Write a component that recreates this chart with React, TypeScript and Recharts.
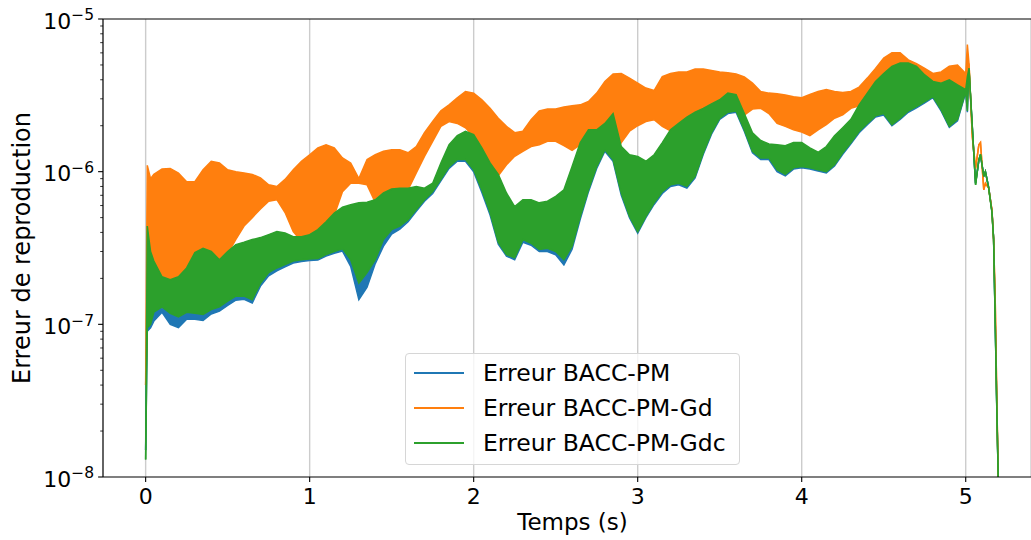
import React from "react";
import { ComposedChart, Area, XAxis, YAxis, CartesianGrid, ReferenceLine, Legend, Label } from "recharts";

// time (s)
const times = [
  0, 0.01, 0.03,
  0.05, 0.1, 0.15, 0.2, 0.25, 0.3, 0.35, 0.4, 0.45, 0.5,
  0.55, 0.6, 0.65, 0.7, 0.75, 0.8, 0.85, 0.9, 0.95, 1.0,
  1.05, 1.1, 1.15, 1.2, 1.25, 1.3, 1.35, 1.4, 1.45, 1.5,
  1.55, 1.6, 1.65, 1.7, 1.75, 1.8, 1.85, 1.9, 1.95, 2.0,
  2.05, 2.1, 2.15, 2.2, 2.25, 2.3, 2.35, 2.4, 2.45, 2.5,
  2.55, 2.6, 2.65, 2.7, 2.75, 2.8, 2.85, 2.9, 2.95, 3.0,
  3.05, 3.1, 3.15, 3.2, 3.25, 3.3, 3.35, 3.4, 3.45, 3.5,
  3.55, 3.6, 3.65, 3.7, 3.75, 3.8, 3.85, 3.9, 3.95, 4.0,
  4.05, 4.1, 4.15, 4.2, 4.25, 4.3, 4.35, 4.4, 4.45, 4.5,
  4.55, 4.6, 4.65, 4.7, 4.75, 4.8, 4.85, 4.9, 4.95, 5.0,
  5.01, 5.02, 5.04, 5.06, 5.08, 5.09, 5.11, 5.12, 5.14, 5.16, 5.17, 5.18, 5.19, 5.2,
];

// envelopes of the oscillating errors (low / high)
const blueLow = [
  1.5e-8, 9.0e-8, 9.5e-8,
  1.05e-7, 1.2e-7, 1.0e-7, 9.5e-8, 1.08e-7, 1.08e-7, 1.06e-7, 1.17e-7, 1.22e-7, 1.33e-7,
  1.44e-7, 1.46e-7, 1.38e-7, 1.78e-7, 2.08e-7, 2.24e-7, 2.38e-7, 2.52e-7, 2.58e-7, 2.62e-7,
  2.64e-7, 2.8e-7, 2.92e-7, 3.02e-7, 2.4e-7, 1.45e-7, 1.75e-7, 2.5e-7, 3.25e-7, 3.9e-7,
  4.2e-7, 4.7e-7, 5.5e-7, 6.4e-7, 7.2e-7, 8.7e-7, 1.05e-6, 1.17e-6, 1.17e-6, 1.0e-6,
  7.3e-7, 5.2e-7, 3.35e-7, 2.8e-7, 2.65e-7, 3.45e-7, 3.3e-7, 3.0e-7, 3.0e-7, 2.85e-7,
  2.45e-7, 3.1e-7, 4.9e-7, 7.4e-7, 1.05e-6, 1.36e-6, 1.17e-6, 7.0e-7, 5.0e-7, 3.95e-7,
  5.0e-7, 6.1e-7, 7.2e-7, 8.0e-7, 8.2e-7, 7.8e-7, 9.1e-7, 1.3e-6, 1.76e-6, 2.2e-6,
  2.4e-6, 2.45e-6, 1.84e-6, 1.33e-6, 1.2e-6, 1.2e-6, 1.0e-6, 9.4e-7, 1.04e-6, 1.06e-6,
  1.04e-6, 1.01e-6, 9.8e-7, 1.09e-6, 1.3e-6, 1.52e-6, 1.8e-6, 2.03e-6, 2.28e-6, 2.35e-6,
  2.0e-6, 2.2e-6, 2.45e-6, 2.62e-6, 2.82e-6, 3.05e-6, 2.5e-6, 1.95e-6, 2.15e-6, 3.3e-6,
  2.45e-6, 4.6e-6, 1.95e-6, 8.4e-7, 1.18e-6, 1.28e-6, 9.4e-7, 1.0e-6, 7.9e-7, 5.5e-7, 3.65e-7, 1.05e-7, 2.7e-8, 8e-9,
];
const blueHigh = [
  1.5e-8, 3.5e-7, 2.8e-7,
  2.4e-7, 1.95e-7, 1.9e-7, 2.0e-7, 2.25e-7, 2.8e-7, 3.0e-7, 2.85e-7, 2.55e-7, 2.85e-7,
  3.2e-7, 3.3e-7, 3.45e-7, 3.55e-7, 3.7e-7, 3.9e-7, 3.8e-7, 3.6e-7, 3.6e-7, 3.7e-7,
  4.0e-7, 4.5e-7, 5.1e-7, 5.6e-7, 5.8e-7, 6.0e-7, 6.0e-7, 6.3e-7, 7.0e-7, 7.4e-7,
  7.5e-7, 7.5e-7, 7.7e-7, 7.5e-7, 8.1e-7, 1.1e-6, 1.45e-6, 1.65e-6, 1.77e-6, 1.68e-6,
  1.38e-6, 1.1e-6, 9.2e-7, 7.0e-7, 5.7e-7, 6.3e-7, 6.3e-7, 6.0e-7, 6.2e-7, 6.6e-7,
  7.3e-7, 1.04e-6, 1.5e-6, 1.8e-6, 1.8e-6, 2.0e-6, 2.3e-6, 1.4e-6, 1.24e-6, 1.21e-6,
  1.12e-6, 1.24e-6, 1.5e-6, 1.8e-6, 2.0e-6, 2.2e-6, 2.36e-6, 2.5e-6, 2.68e-6, 2.85e-6,
  3.15e-6, 3.1e-6, 2.3e-6, 1.73e-6, 1.54e-6, 1.46e-6, 1.44e-6, 1.42e-6, 1.49e-6, 1.49e-6,
  1.38e-6, 1.29e-6, 1.4e-6, 1.65e-6, 1.87e-6, 2.12e-6, 2.64e-6, 3.15e-6, 3.75e-6, 4.25e-6,
  4.7e-6, 4.95e-6, 4.95e-6, 4.7e-6, 4.15e-6, 3.75e-6, 3.65e-6, 3.85e-6, 3.55e-6, 3.35e-6,
  4.0e-6, 4.6e-6, 1.95e-6, 8.4e-7, 1.18e-6, 1.28e-6, 9.4e-7, 1.0e-6, 7.9e-7, 5.5e-7, 3.65e-7, 1.05e-7, 2.7e-8, 8e-9,
];
const orangeLow = [
  4.0e-8, 1.0e-7, 1.5e-7,
  1.6e-7, 1.3e-7, 1.6e-7, 1.8e-7, 2.0e-7, 2.4e-7, 2.6e-7, 2.5e-7, 2.5e-7, 2.9e-7,
  3.6e-7, 4.4e-7, 5.0e-7, 5.7e-7, 6.4e-7, 6.55e-7, 5.4e-7, 4.05e-7, 3.5e-7, 3.6e-7,
  3.9e-7, 4.5e-7, 5.2e-7, 7.4e-7, 8.4e-7, 8.4e-7, 8.2e-7, 6.3e-7, 7.0e-7, 7.4e-7,
  7.6e-7, 7.6e-7, 9.8e-7, 1.26e-6, 1.58e-6, 1.98e-6, 2.13e-6, 2.07e-6, 1.94e-6, 1.7e-6,
  1.4e-6, 1.1e-6, 9.4e-7, 1.11e-6, 1.26e-6, 1.36e-6, 1.46e-6, 1.5e-6, 1.58e-6, 1.58e-6,
  1.48e-6, 1.38e-6, 1.5e-6, 1.8e-6, 1.85e-6, 2.0e-6, 2.3e-6, 1.55e-6, 1.84e-6, 2.0e-6,
  2.13e-6, 2.19e-6, 1.98e-6, 1.85e-6, 2.0e-6, 2.2e-6, 2.4e-6, 2.55e-6, 2.7e-6, 2.9e-6,
  3.1e-6, 3.1e-6, 2.35e-6, 2.57e-6, 2.6e-6, 2.4e-6, 2.07e-6, 1.98e-6, 1.88e-6, 1.82e-6,
  1.72e-6, 1.88e-6, 2.03e-6, 2.24e-6, 2.36e-6, 2.6e-6, 2.7e-6, 3.1e-6, 3.7e-6, 4.2e-6,
  4.7e-6, 4.9e-6, 4.9e-6, 4.7e-6, 4.1e-6, 3.7e-6, 3.6e-6, 3.8e-6, 3.5e-6, 3.3e-6,
  3.5e-6, 5.1e-6, 1.7e-6, 1.05e-6, 1.5e-6, 1.55e-6, 7.6e-7, 8.4e-7, 7.8e-7, 5.6e-7, 3.6e-7, 1.4e-7, 3.0e-8, 8e-9,
];
const orangeHigh = [
  4.0e-8, 1.1e-6, 9.0e-7,
  9.6e-7, 1.04e-6, 1.05e-6, 9.8e-7, 8.6e-7, 8.6e-7, 1.03e-6, 1.17e-6, 1.14e-6, 1.03e-6,
  1.0e-6, 9.8e-7, 9.6e-7, 9.1e-7, 8.2e-7, 8.0e-7, 8.9e-7, 1.03e-6, 1.17e-6, 1.29e-6,
  1.43e-6, 1.5e-6, 1.43e-6, 1.23e-6, 1.14e-6, 9.0e-7, 1.2e-6, 1.29e-6, 1.36e-6, 1.39e-6,
  1.39e-6, 1.33e-6, 1.46e-6, 1.8e-6, 2.13e-6, 2.5e-6, 2.74e-6, 3.05e-6, 3.35e-6, 3.27e-6,
  2.96e-6, 2.6e-6, 2.24e-6, 1.98e-6, 1.8e-6, 1.84e-6, 2.19e-6, 2.5e-6, 2.57e-6, 2.57e-6,
  2.65e-6, 2.7e-6, 2.74e-6, 2.88e-6, 3.27e-6, 3.9e-6, 4.37e-6, 4.4e-6, 4.1e-6, 3.8e-6,
  3.53e-6, 3.4e-6, 4.2e-6, 4.4e-6, 4.5e-6, 4.5e-6, 4.7e-6, 4.7e-6, 4.6e-6, 4.5e-6,
  4.45e-6, 4.37e-6, 4.17e-6, 3.8e-6, 3.35e-6, 3.27e-6, 3.24e-6, 3.18e-6, 3.1e-6, 3.05e-6,
  3.2e-6, 3.35e-6, 3.45e-6, 3.35e-6, 3.3e-6, 3.35e-6, 3.58e-6, 4.1e-6, 4.75e-6, 5.55e-6,
  6.0e-6, 6.0e-6, 5.4e-6, 5.1e-6, 4.75e-6, 4.4e-6, 4.5e-6, 4.9e-6, 5.0e-6, 4.4e-6,
  6.8e-6, 5.1e-6, 1.7e-6, 1.05e-6, 1.5e-6, 1.55e-6, 7.6e-7, 8.4e-7, 7.8e-7, 5.6e-7, 3.6e-7, 1.4e-7, 3.0e-8, 8e-9,
];
const greenLow = [
  1.3e-8, 9.5e-8, 1.0e-7,
  1.2e-7, 1.3e-7, 1.18e-7, 1.12e-7, 1.2e-7, 1.18e-7, 1.16e-7, 1.25e-7, 1.3e-7, 1.42e-7,
  1.53e-7, 1.53e-7, 1.45e-7, 1.86e-7, 2.18e-7, 2.34e-7, 2.46e-7, 2.6e-7, 2.65e-7, 2.68e-7,
  2.7e-7, 2.86e-7, 3.0e-7, 3.13e-7, 2.65e-7, 1.86e-7, 2.18e-7, 2.65e-7, 3.59e-7, 4.17e-7,
  4.4e-7, 4.85e-7, 5.64e-7, 6.55e-7, 7.4e-7, 8.9e-7, 1.08e-6, 1.2e-6, 1.2e-6, 1.03e-6,
  7.6e-7, 5.4e-7, 3.45e-7, 2.86e-7, 2.73e-7, 3.59e-7, 3.4e-7, 3.09e-7, 3.15e-7, 3.0e-7,
  2.65e-7, 3.25e-7, 5.1e-7, 7.6e-7, 1.08e-6, 1.39e-6, 1.2e-6, 7.25e-7, 5.1e-7, 4.05e-7,
  5.1e-7, 6.25e-7, 7.4e-7, 8.2e-7, 8.4e-7, 8.0e-7, 9.3e-7, 1.33e-6, 1.8e-6, 2.24e-6,
  2.45e-6, 2.5e-6, 1.88e-6, 1.36e-6, 1.23e-6, 1.23e-6, 1.03e-6, 9.6e-7, 1.06e-6, 1.08e-6,
  1.06e-6, 1.03e-6, 1.0e-6, 1.11e-6, 1.33e-6, 1.55e-6, 1.84e-6, 2.07e-6, 2.32e-6, 2.4e-6,
  2.03e-6, 2.24e-6, 2.5e-6, 2.67e-6, 2.88e-6, 3.1e-6, 2.55e-6, 1.98e-6, 2.2e-6, 3.35e-6,
  2.5e-6, 4.75e-6, 1.98e-6, 8.2e-7, 1.2e-6, 1.3e-6, 9.3e-7, 1.0e-6, 7.8e-7, 5.4e-7, 3.6e-7, 1.0e-7, 2.6e-8, 8e-9,
];
const greenHigh = [
  1.3e-8, 4.4e-7, 3.0e-7,
  2.6e-7, 2.05e-7, 1.96e-7, 2.05e-7, 2.34e-7, 2.95e-7, 3.15e-7, 3.0e-7, 2.65e-7, 3.0e-7,
  3.33e-7, 3.45e-7, 3.59e-7, 3.7e-7, 3.87e-7, 4.05e-7, 3.96e-7, 3.75e-7, 3.75e-7, 3.87e-7,
  4.17e-7, 4.7e-7, 5.35e-7, 5.85e-7, 6.08e-7, 6.25e-7, 6.3e-7, 6.55e-7, 7.25e-7, 7.7e-7,
  7.8e-7, 7.8e-7, 8.0e-7, 7.8e-7, 8.4e-7, 1.14e-6, 1.5e-6, 1.72e-6, 1.84e-6, 1.75e-6,
  1.43e-6, 1.14e-6, 9.6e-7, 7.25e-7, 5.9e-7, 6.55e-7, 6.55e-7, 6.25e-7, 6.4e-7, 6.9e-7,
  7.6e-7, 1.08e-6, 1.55e-6, 1.88e-6, 1.88e-6, 2.07e-6, 2.4e-6, 1.46e-6, 1.29e-6, 1.26e-6,
  1.17e-6, 1.29e-6, 1.55e-6, 1.88e-6, 2.07e-6, 2.28e-6, 2.45e-6, 2.6e-6, 2.78e-6, 2.96e-6,
  3.27e-6, 3.2e-6, 2.4e-6, 1.8e-6, 1.6e-6, 1.52e-6, 1.5e-6, 1.48e-6, 1.55e-6, 1.55e-6,
  1.43e-6, 1.34e-6, 1.46e-6, 1.72e-6, 1.94e-6, 2.2e-6, 2.74e-6, 3.27e-6, 3.9e-6, 4.4e-6,
  4.9e-6, 5.15e-6, 5.15e-6, 4.9e-6, 4.3e-6, 3.9e-6, 3.8e-6, 4.0e-6, 3.7e-6, 3.45e-6,
  4.2e-6, 4.75e-6, 1.98e-6, 8.2e-7, 1.2e-6, 1.3e-6, 9.3e-7, 1.0e-6, 7.8e-7, 5.4e-7, 3.6e-7, 1.0e-7, 2.6e-8, 8e-9,
];

const xTicks = [0, 1, 2, 3, 4, 5];
const yMajor = [1e-8, 1e-7, 1e-6, 1e-5];
const yMajorExp = ["−8", "−7", "−6", "−5"];
const yTicks = [
  1e-8, 2e-8, 3e-8, 4e-8, 5e-8, 6e-8, 7e-8, 8e-8, 9e-8,
  1e-7, 2e-7, 3e-7, 4e-7, 5e-7, 6e-7, 7e-7, 8e-7, 9e-7,
  1e-6, 2e-6, 3e-6, 4e-6, 5e-6, 6e-6, 7e-6, 8e-6, 9e-6,
  1e-5,
];
const yGrid = [1e-7, 1e-6];

const series = [
  { key: "blue", name: "Erreur BACC-PM", color: "#1f77b4" },
  { key: "orange", name: "Erreur BACC-PM-Gd", color: "#ff7f0e" },
  { key: "green", name: "Erreur BACC-PM-Gdc", color: "#2ca02c" },
];

const data = times.map((t, i) => ({
  t,
  blue: [blueLow[i], blueHigh[i]],
  orange: [orangeLow[i], orangeHigh[i]],
  green: [greenLow[i], greenHigh[i]],
}));

const FONT = "'DejaVu Sans', sans-serif";
const YAXIS_W = 70;
const PLOT_LEFT = 103;

function YTick(props: any) {
  const { y, payload } = props;
  const idx = yMajor.indexOf(payload.value);
  if (idx < 0) {
    return <line x1={PLOT_LEFT - 2.8} x2={PLOT_LEFT} y1={y} y2={y} stroke="#000" strokeWidth={0.8} />;
  }
  return (
    <g>
      <line x1={PLOT_LEFT - 4.9} x2={PLOT_LEFT} y1={y} y2={y} stroke="#000" strokeWidth={1.1} />
      <text x={94} y={y + 9.7} textAnchor="end" fontSize={22} fill="#000" fontFamily={FONT}>
        <tspan>10</tspan>
        <tspan dy={-8.4} fontSize={15.5}>{yMajorExp[idx]}</tspan>
      </text>
    </g>
  );
}

function XTick(props: any) {
  const { x, y, payload } = props;
  return (
    <text x={x} y={y + 20} textAnchor="middle" fontSize={22} fill="#000" fontFamily={FONT}>
      {payload.value}
    </text>
  );
}

function LegendBox() {
  return (
    <div
      style={{
        width: 335,
        height: 112,
        boxSizing: "border-box",
        border: "1px solid #d6d6d6",
        borderRadius: 4,
        background: "rgba(255,255,255,0.8)",
        paddingTop: 1,
        fontFamily: FONT,
        fontSize: 23.5,
        color: "#000",
      }}
    >
      {series.map((s) => (
        <div key={s.key} style={{ display: "flex", alignItems: "center", height: 35 }}>
          <span style={{ width: 50, height: 0, borderTop: `2px solid ${s.color}`, marginLeft: 8, marginRight: 19, flexShrink: 0 }} />
          <span style={{ whiteSpace: "nowrap" }}>{s.name}</span>
        </div>
      ))}
    </div>
  );
}

export default function App() {
  return (
    <div style={{ position: "absolute", left: 0, top: 0, width: 1031, height: 540, overflow: "hidden", background: "#fff", fontFamily: FONT }}>
      <ComposedChart
        width={1031}
        height={540}
        data={data}
        margin={{ top: 19, right: 0, bottom: 23, left: PLOT_LEFT - YAXIS_W }}
      >
        <CartesianGrid
          stroke="#cccccc"
          strokeWidth={1.4}
          horizontalCoordinatesGenerator={(p: any) =>
            p && p.yAxis && typeof p.yAxis.scale === "function" ? yGrid.map((v) => p.yAxis.scale(v)) : []
          }
        />
        <XAxis
          dataKey="t"
          type="number"
          domain={[-0.26, 5.398]}
          allowDataOverflow
          ticks={xTicks}
          height={40}
          tick={<XTick />}
          tickSize={5}
          tickMargin={2}
          tickLine={{ stroke: "#000", strokeWidth: 1.1 }}
          axisLine={{ stroke: "#000", strokeWidth: 1.1 }}
          label={
            <Label
              content={() => (
                <text x={572.5} y={530} textAnchor="middle" fontSize={23} fill="#000" fontFamily={FONT}>
                  Temps (s)
                </text>
              )}
            />
          }
        />
        <YAxis
          type="number"
          scale="log"
          domain={[1e-8, 1e-5]}
          allowDataOverflow
          ticks={yTicks}
          interval={0}
          width={YAXIS_W}
          tick={<YTick />}
          tickLine={false}
          axisLine={{ stroke: "#000", strokeWidth: 1.1 }}
          label={
            <Label
              content={(p: any) => {
                const vb = p.viewBox || { y: 19, height: 458 };
                const cy = vb.y + vb.height / 2;
                return (
                  <text transform={`translate(30, ${cy}) rotate(-90)`} textAnchor="middle" fontSize={24} fill="#000" fontFamily={FONT}>
                    Erreur de reproduction
                  </text>
                );
              }}
            />
          }
        />
        {series.map((s) => (
          <Area
            key={s.key}
            type="linear"
            dataKey={s.key}
            name={s.name}
            stroke={s.color}
            strokeWidth={1.5}
            fill={s.color}
            fillOpacity={1}
            dot={false}
            activeDot={false}
            isAnimationActive={false}
          />
        ))}
        <ReferenceLine y={1e-5} stroke="#000" strokeWidth={1.1} ifOverflow="visible" />
        <Legend
          layout="vertical"
          align="center"
          verticalAlign="middle"
          content={() => <LegendBox />}
          wrapperStyle={{ left: 405, top: 353, width: 335, height: 112 }}
        />
      </ComposedChart>
    </div>
  );
}
